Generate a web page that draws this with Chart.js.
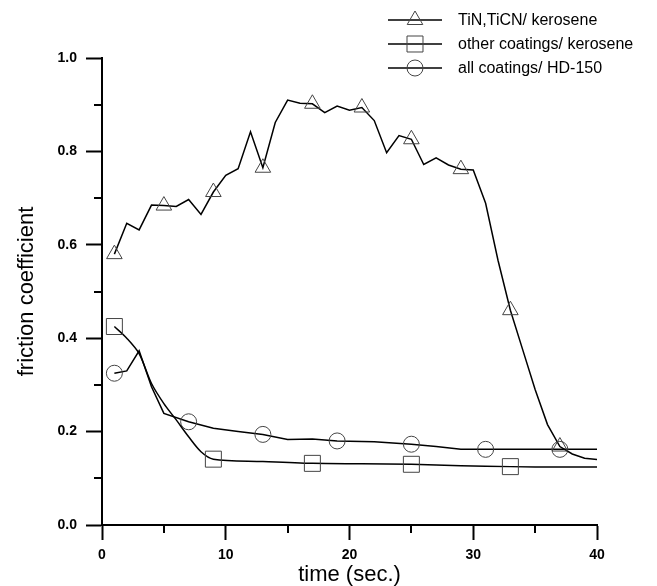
<!DOCTYPE html>
<html>
<head>
<meta charset="utf-8">
<script src="https://cdn.jsdelivr.net/npm/chart.js@4/dist/chart.umd.min.js"></script>
<style>
    body { margin: 0; background: #fff; }
    canvas { display: block; }
</style>
</head>
<body>
<canvas id="myChart" width="657" height="586"></canvas>
<script>
// Chart data

    // TiN,TiCN / kerosene
    const tinTime = [1, 2, 3, 4, 5, 6, 7, 8, 9, 10, 11, 12, 13, 14, 15, 16, 17, 18, 19, 20,
                     21, 22, 23, 24, 25, 26, 27, 28, 29, 30, 31, 32, 33, 34, 35, 36, 37, 38, 39, 40];
    const tinFriction = [0.58, 0.646, 0.632, 0.685, 0.684, 0.682, 0.697, 0.665, 0.713, 0.749,
                         0.763, 0.842, 0.765, 0.862, 0.910, 0.903, 0.902, 0.883, 0.897, 0.888,
                         0.894, 0.866, 0.797, 0.834, 0.826, 0.772, 0.786, 0.771, 0.762, 0.760,
                         0.689, 0.567, 0.46, 0.375, 0.29, 0.215, 0.168, 0.152, 0.143, 0.14];
    const tinMarks = [1, 5, 9, 13, 17, 21, 25, 29, 33, 37];

    // other coatings / kerosene
    const otherTime = [1, 2, 3, 4, 5, 6, 7, 8, 9, 13, 17, 21, 25, 29, 33, 37, 40];
    const otherFriction = [0.425, 0.40, 0.367, 0.303, 0.26, 0.225, 0.189, 0.157, 0.141,
                           0.136, 0.132, 0.131, 0.13, 0.127, 0.125, 0.124, 0.124];
    const otherMarks = [1, 9, 17, 25, 33];

    // all coatings / HD-150
    const hdTime = [1, 2, 3, 4, 5, 7, 9, 11, 13, 15, 17, 19, 22, 25, 27, 29, 31, 37, 40];
    const hdFriction = [0.325, 0.33, 0.373, 0.296, 0.239, 0.221, 0.207, 0.2, 0.194, 0.183,
                        0.184, 0.18, 0.178, 0.173, 0.168, 0.162, 0.162, 0.162, 0.162];
    const hdMarks = [1, 7, 13, 19, 25, 31, 37];

    const seriesNames = ['TiN,TiCN/ kerosene', 'other coatings/ kerosene', 'all coatings/ HD-150'];

    // axis ticks
    const yMinorTicks = [0.1, 0.3, 0.5, 0.7, 0.9];
    const xMinorTicks = [5, 15, 25, 35];

// End chart data

    // turn two arrays into {x,y} points
    function toPoints(xs, ys){
        const pts = [];
        for(let i=0; i<xs.length; i++){
            pts.push({x: xs[i], y: ys[i]});
        }
        return pts;
    }

    // marker only where the original figure has one
    function markRadius(marks, r){
        return function(ctx){
            if(!ctx.raw) return 0;
            return marks.indexOf(ctx.raw.x) > -1 ? r : 0;
        };
    }

    const markerColor = '#444';
    const styles = [
        {pointStyle: 'triangle', radius: 9},
        {pointStyle: 'rect', radius: 11.3},
        {pointStyle: 'circle', radius: 8}
    ];

    // minor ticks + custom legend (line through marker, like the original)
    const extrasPlugin = {
        id: 'extras',
        afterDraw(chart){
            const ctx = chart.ctx;
            const xs = chart.scales.x;
            const ys = chart.scales.y;
            const area = chart.chartArea;
            ctx.save();
            ctx.strokeStyle = '#000';
            ctx.lineWidth = 2;
            yMinorTicks.forEach(v => {
                const py = Math.round(ys.getPixelForValue(v));
                ctx.beginPath();
                ctx.moveTo(area.left - 8, py);
                ctx.lineTo(area.left, py);
                ctx.stroke();
            });
            xMinorTicks.forEach(v => {
                const px = Math.round(xs.getPixelForValue(v));
                ctx.beginPath();
                ctx.moveTo(px, area.bottom);
                ctx.lineTo(px, area.bottom + 8);
                ctx.stroke();
            });

            // legend
            const rowY = [20, 44, 68];
            ctx.font = '16px "Liberation Sans", Arial, sans-serif';
            ctx.textBaseline = 'middle';
            ctx.textAlign = 'left';
            for(let i=0; i<seriesNames.length; i++){
                const y = rowY[i];
                ctx.strokeStyle = '#000';
                ctx.lineWidth = 1.5;
                ctx.beginPath();
                ctx.moveTo(388, y);
                ctx.lineTo(442, y);
                ctx.stroke();
                ctx.strokeStyle = markerColor;
                ctx.fillStyle = 'rgba(0,0,0,0)';
                ctx.lineWidth = 1;
                Chart.helpers.drawPoint(ctx, {
                    pointStyle: styles[i].pointStyle,
                    radius: styles[i].radius,
                    borderWidth: 1,
                    rotation: 0
                }, 415, y);
                ctx.fillStyle = '#000';
                ctx.fillText(seriesNames[i], 458, y + 1);
            }
            ctx.restore();
        }
    };

    function makeSet(label, xs, ys, marks, st, tension){
        return {
            label: label,
            data: toPoints(xs, ys),
            borderColor: '#000',
            borderWidth: 1.5,
            tension: tension,
            pointStyle: st.pointStyle,
            pointRadius: markRadius(marks, st.radius),
            pointBorderColor: markerColor,
            pointBorderWidth: 1,
            pointBackgroundColor: 'rgba(0,0,0,0)',
            fill: false
        };
    }

    const tickFont = {family: '"Liberation Sans", Arial, sans-serif', size: 14, weight: 'bold'};
    const titleFont = {family: '"Liberation Sans", Arial, sans-serif', size: 22, lineHeight: 1};

    const myChart = new Chart(document.getElementById('myChart').getContext('2d'), {
        type: 'line',
        data: {
            datasets: [
                makeSet(seriesNames[0], tinTime, tinFriction, tinMarks, styles[0], 0),
                makeSet(seriesNames[1], otherTime, otherFriction, otherMarks, styles[1], 0.3),
                makeSet(seriesNames[2], hdTime, hdFriction, hdMarks, styles[2], 0)
            ]
        },
        options: {
            responsive: false,
            animation: false,
            layout: {
                padding: {top: 58, right: 60, left: 0, bottom: 0}
            },
            plugins: {
                legend: {display: false},
                tooltip: {enabled: false}
            },
            scales: {
                x: {
                    type: 'linear',
                    min: 0,
                    max: 40,
                    afterFit: function(scale){ scale.height = 61; },
                    ticks: {
                        stepSize: 10,
                        color: '#000',
                        font: tickFont,
                        padding: 7,
                        maxRotation: 0
                    },
                    grid: {
                        display: true,
                        drawOnChartArea: false,
                        drawTicks: true,
                        tickLength: 15,
                        tickColor: '#000',
                        tickWidth: 2
                    },
                    border: {color: '#000', width: 2},
                    title: {
                        display: true,
                        text: 'time (sec.)',
                        color: '#000',
                        font: titleFont,
                        padding: {top: 0, bottom: 0}
                    }
                },
                y: {
                    min: 0,
                    max: 1,
                    afterFit: function(scale){ scale.width = 102; },
                    ticks: {
                        stepSize: 0.2,
                        color: '#000',
                        font: tickFont,
                        padding: 9,
                        callback: function(v){ return Number(v).toFixed(1); }
                    },
                    grid: {
                        display: true,
                        drawOnChartArea: false,
                        drawTicks: true,
                        tickLength: 16,
                        tickColor: '#000',
                        tickWidth: 2
                    },
                    border: {color: '#000', width: 2},
                    title: {
                        display: true,
                        text: 'friction coefficient',
                        color: '#000',
                        font: titleFont,
                        padding: {top: 16, bottom: 0}
                    }
                }
            }
        },
        plugins: [extrasPlugin]
    });
</script>
</body>
</html>
